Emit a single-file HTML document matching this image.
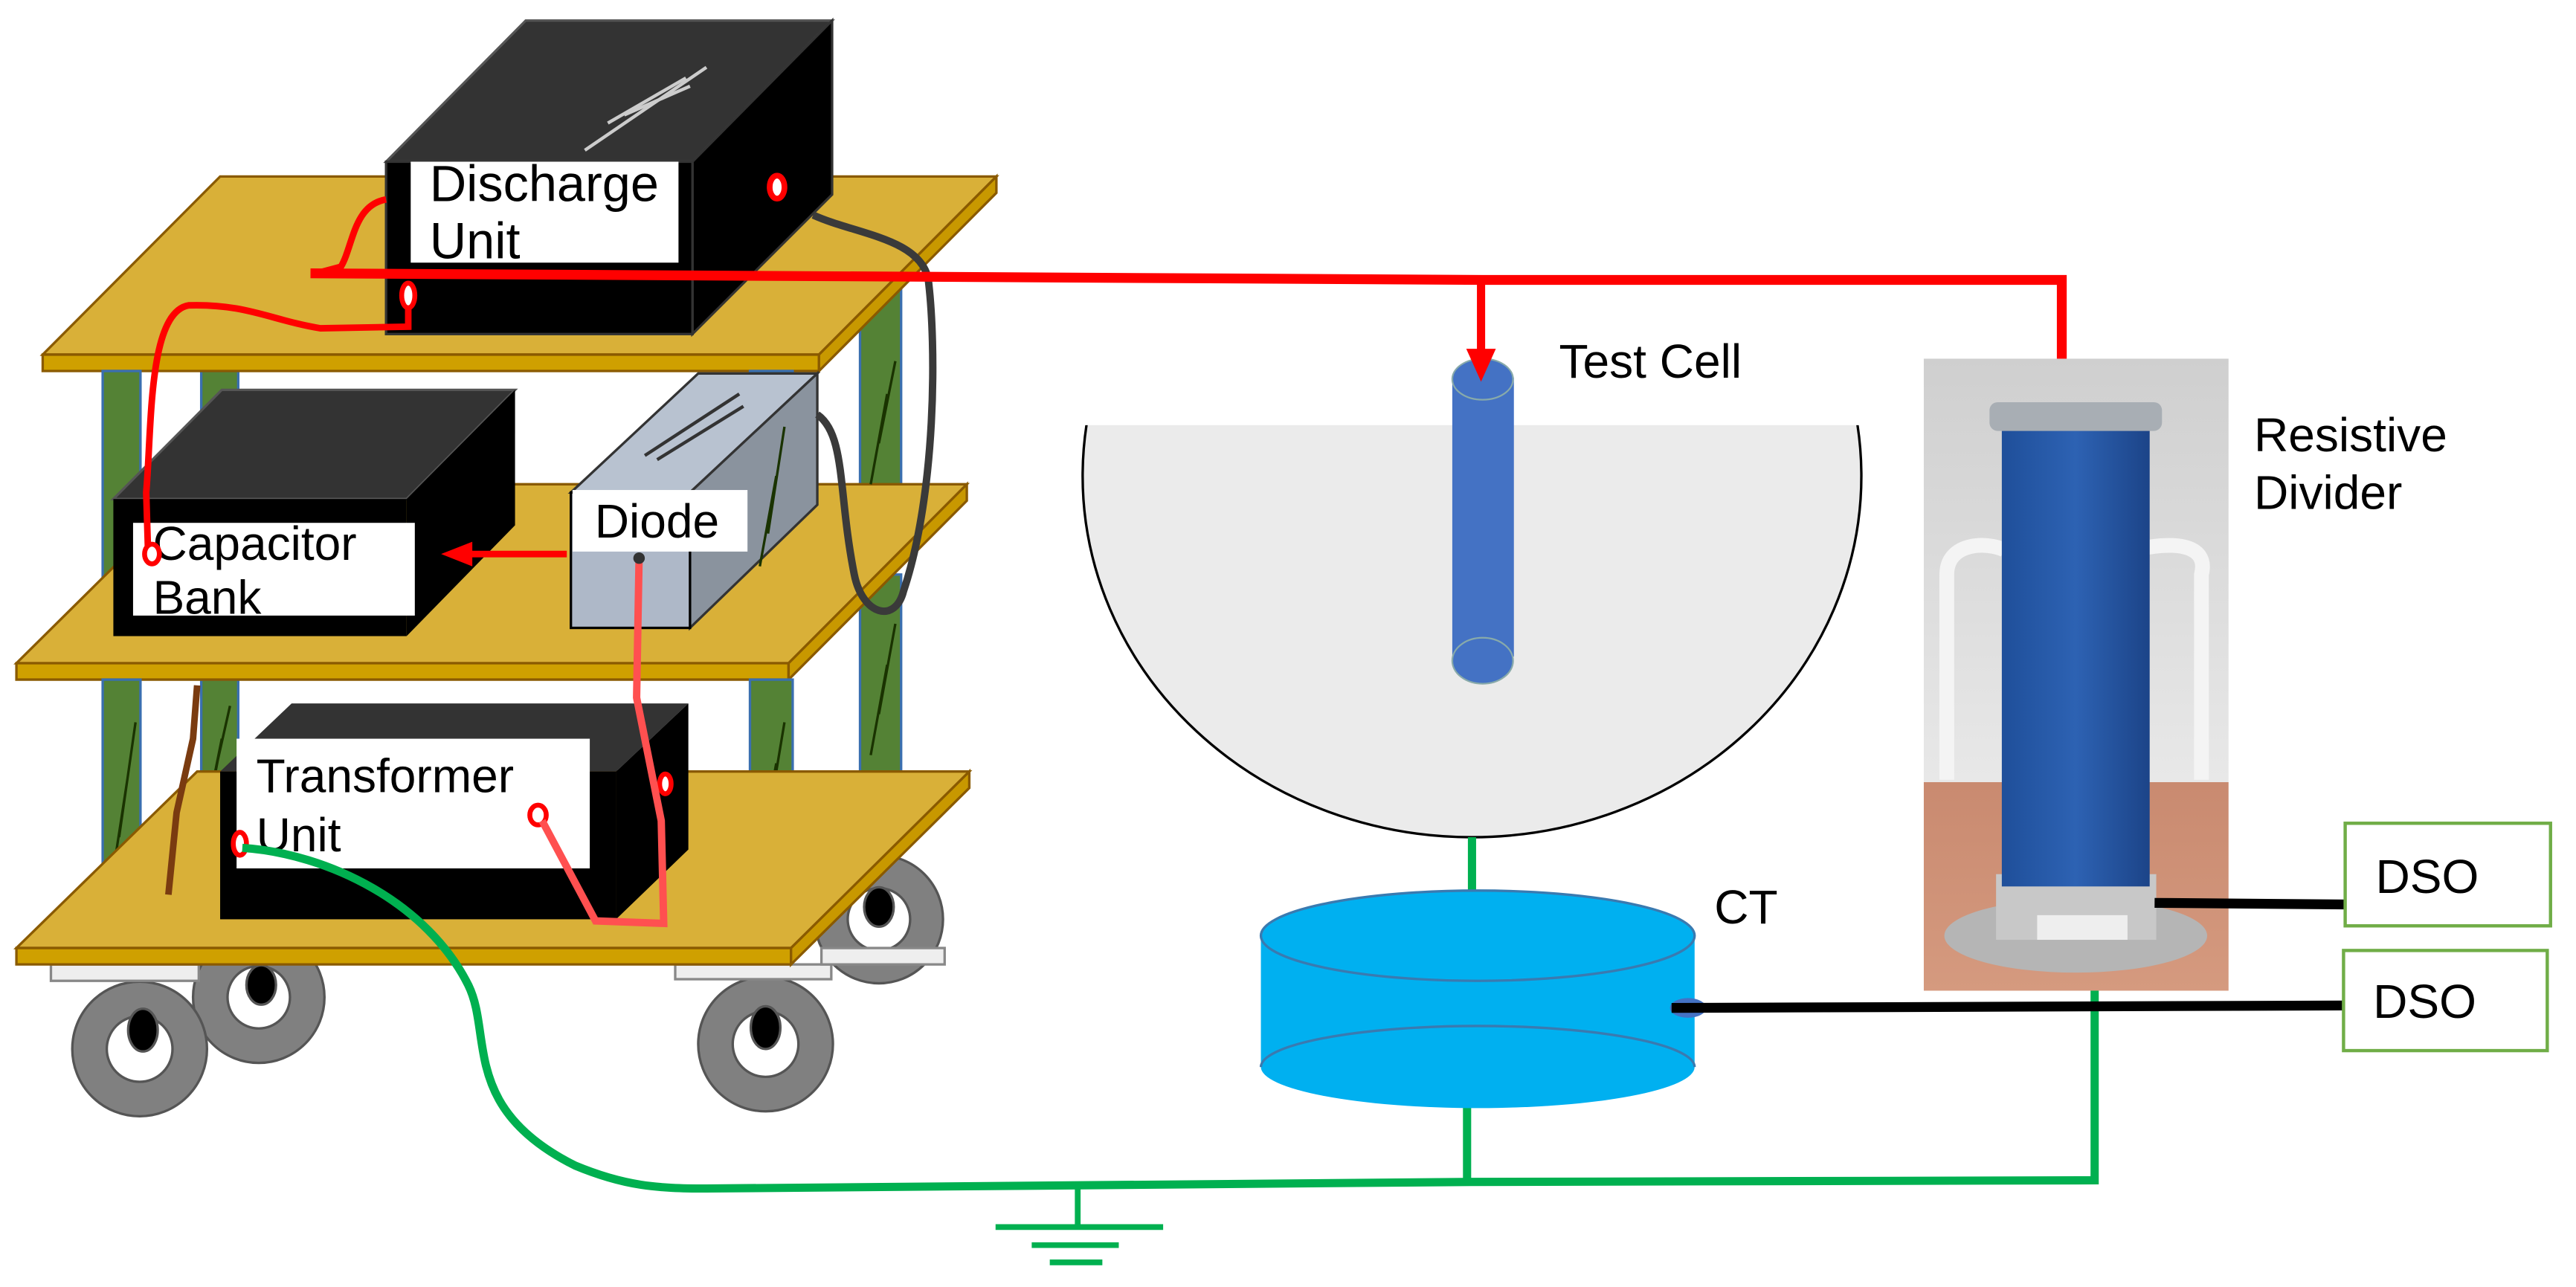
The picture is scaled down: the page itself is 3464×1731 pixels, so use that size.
<!DOCTYPE html>
<html><head><meta charset="utf-8"><style>
html,body{margin:0;padding:0;background:#fff;}
svg{display:block;}
text{font-family:"Liberation Sans",sans-serif;fill:#000;}
</style></head><body>
<svg width="3464" height="1731" viewBox="0 0 3136 1568" preserveAspectRatio="none" xmlns="http://www.w3.org/2000/svg">
<defs>
<linearGradient id="bg" x1="0" y1="0" x2="0" y2="1">
<stop offset="0" stop-color="#cfcfcf"/><stop offset="0.67" stop-color="#e8e8e8"/><stop offset="0.67" stop-color="#c98a70"/><stop offset="1" stop-color="#d59a7f"/></linearGradient>
<linearGradient id="cyl" x1="0" y1="0" x2="1" y2="0">
<stop offset="0" stop-color="#1f4f9a"/><stop offset="0.5" stop-color="#2d62b3"/><stop offset="1" stop-color="#1c4488"/></linearGradient>
<clipPath id="bowl"><rect x="1200" y="518" width="1200" height="600"/></clipPath>
</defs>

<!-- wheels -->
<g stroke="#555" stroke-width="3">
<circle cx="1070" cy="1120" r="78" fill="#808080"/><circle cx="1070" cy="1120" r="38" fill="#fff"/><ellipse cx="1070" cy="1105" rx="18" ry="24" fill="#000"/>
<circle cx="315" cy="1215" r="80" fill="#808080"/><circle cx="315" cy="1215" r="38" fill="#fff"/><ellipse cx="318" cy="1200" rx="18" ry="24" fill="#000"/>
<circle cx="170" cy="1278" r="82" fill="#808080"/><circle cx="170" cy="1278" r="40" fill="#fff"/><ellipse cx="174" cy="1255" rx="18" ry="26" fill="#000"/>
<circle cx="932" cy="1272" r="82" fill="#808080"/><circle cx="932" cy="1272" r="40" fill="#fff"/><ellipse cx="932" cy="1252" rx="18" ry="26" fill="#000"/>
</g>
<g fill="#eee" stroke="#888" stroke-width="3">
<rect x="62" y="1175" width="180" height="20"/><rect x="822" y="1175" width="190" height="18"/><rect x="1000" y="1155" width="150" height="20"/>
</g>

<!-- back posts -->
<g fill="#548235" stroke="#3a6fb0" stroke-width="3">
<rect x="245" y="452" width="45" height="150"/><rect x="245" y="828" width="45" height="165"/>
<rect x="1047" y="350" width="50" height="260"/><rect x="1047" y="700" width="50" height="280"/>
</g>

<!-- top shelf -->
<polygon points="52,432 268,215 1213,215 997,432" fill="#d9b038" stroke="#8a5a00" stroke-width="3"/>
<polygon points="52,432 997,432 997,452 52,452" fill="#cfa000" stroke="#8a5a00" stroke-width="3"/>
<polygon points="997,432 1213,215 1213,235 997,452" fill="#c89800" stroke="#8a5a00" stroke-width="3"/>

<!-- discharge unit -->
<polygon points="470,197 640,25 1013,25 843,197" fill="#333" stroke="#555" stroke-width="3"/>
<polygon points="843,197 1013,25 1013,237 843,407" fill="#000" stroke="#333" stroke-width="3"/>
<rect x="470" y="197" width="373" height="210" fill="#000" stroke="#333" stroke-width="3"/>
<g stroke="#ccc" stroke-width="4"><line x1="712" y1="183" x2="860" y2="82"/><line x1="740" y1="150" x2="835" y2="95"/><line x1="760" y1="140" x2="840" y2="105"/></g>
<rect x="500" y="197" width="326" height="123" fill="#fff"/>
<text x="523" y="245" font-size="62">Discharge</text>
<text x="523" y="315" font-size="62">Unit</text>
<ellipse cx="946" cy="228" rx="9" ry="14" fill="#fff" stroke="#f00" stroke-width="7"/>

<!-- middle shelf -->
<g fill="#548235" stroke="#3a6fb0" stroke-width="3">
<rect x="125" y="452" width="46" height="320"/><rect x="913" y="452" width="52" height="300"/>
</g>
<polygon points="20,808 240,590 1177,590 960,808" fill="#d9b038" stroke="#8a5a00" stroke-width="3"/>
<polygon points="20,808 960,808 960,828 20,828" fill="#cfa000" stroke="#8a5a00" stroke-width="3"/>
<polygon points="960,808 1177,590 1177,610 960,828" fill="#c89800" stroke="#8a5a00" stroke-width="3"/>

<!-- capacitor bank -->
<polygon points="138,608 270,475 627,475 495,608" fill="#333" stroke="#555" stroke-width="3"/>
<polygon points="495,608 627,475 627,640 495,775" fill="#000"/>
<rect x="138" y="608" width="357" height="167" fill="#000"/>
<rect x="162" y="637" width="343" height="113" fill="#fff"/>
<text x="186" y="682" font-size="58">Capacitor</text>
<text x="186" y="748" font-size="58">Bank</text>

<!-- diode -->
<polygon points="695,600 850,455 995,455 840,600" fill="#b8c2d0" stroke="#333" stroke-width="3"/>
<polygon points="840,600 995,455 995,615 840,765" fill="#8a939e" stroke="#333" stroke-width="3"/>
<rect x="695" y="600" width="145" height="165" fill="#aeb8c8" stroke="#000" stroke-width="3"/>
<g stroke="#333" stroke-width="4"><line x1="785" y1="555" x2="900" y2="480"/><line x1="800" y1="560" x2="905" y2="495"/></g>
<rect x="697" y="597" width="213" height="75" fill="#fff"/>
<text x="724" y="655" font-size="58">Diode</text>
<line x1="690" y1="675" x2="565" y2="675" stroke="#f00" stroke-width="8"/>
<polygon points="537,675 575,660 575,690" fill="#f00"/>

<!-- bottom shelf -->
<g fill="#548235" stroke="#3a6fb0" stroke-width="3">
<rect x="125" y="828" width="46" height="297"/><rect x="913" y="828" width="52" height="290"/>
</g>
<g stroke="#1a3300" stroke-width="3" fill="none">
<polyline points="135,1080 155,950 145,1020 165,880"/><polyline points="925,690 945,580 935,650 955,520"/><polyline points="925,1040 945,930 935,1000 955,880"/><polyline points="1060,590 1080,480 1070,540 1090,440"/><polyline points="1060,920 1080,810 1070,870 1090,760"/><polyline points="255,980 270,900 262,940 280,860"/>
</g>
<polygon points="20,1155 240,940 1180,940 963,1155" fill="#d9b038" stroke="#8a5a00" stroke-width="3"/>
<polygon points="20,1155 963,1155 963,1175 20,1175" fill="#cfa000" stroke="#8a5a00" stroke-width="3"/>
<polygon points="963,1155 1180,940 1180,960 963,1175" fill="#c89800" stroke="#8a5a00" stroke-width="3"/>
<polyline points="240,835 235,900 215,990 205,1090" fill="none" stroke="#7a3b10" stroke-width="8"/>

<!-- transformer -->
<polygon points="268,940 355,857 838,857 750,940" fill="#333"/>
<polygon points="750,940 838,857 838,1035 750,1120" fill="#000"/>
<rect x="268" y="940" width="482" height="180" fill="#000"/>
<rect x="288" y="900" width="430" height="158" fill="#fff"/>
<text x="312" y="965" font-size="58">Transformer</text>
<text x="312" y="1037" font-size="58">Unit</text>
<ellipse cx="810" cy="955" rx="7" ry="12" fill="#fff" stroke="#f00" stroke-width="6"/>
<ellipse cx="655" cy="993" rx="10" ry="12" fill="#fff" stroke="#f00" stroke-width="6"/>
<ellipse cx="292" cy="1028" rx="8" ry="14" fill="#fff" stroke="#f00" stroke-width="6"/>

<!-- wires -->
<path d="M778,680 L775,850 L805,1000 L808,1125 L725,1122 L660,1000" fill="none" stroke="#ff5050" stroke-width="9"/>
<circle cx="778" cy="680" r="7" fill="#333"/>
<path d="M990,262 C1040,285 1120,290 1130,340 C1140,420 1140,600 1100,720 C1090,760 1050,750 1040,700 C1020,600 1030,530 995,505" fill="none" stroke="#3a3a3a" stroke-width="9"/>
<path d="M470,243 C430,250 430,300 415,325 L385,333" fill="none" stroke="#f00" stroke-width="8"/>
<path d="M497,372 L497,398 L390,400 C330,390 300,370 230,372 C180,380 185,520 178,600 L180,665" fill="none" stroke="#f00" stroke-width="8"/>
<ellipse cx="185" cy="675" rx="9" ry="12" fill="#fff" stroke="#f00" stroke-width="6"/>
<ellipse cx="497" cy="360" rx="8" ry="15" fill="#fff" stroke="#f00" stroke-width="6"/>

<!-- test cell -->
<g clip-path="url(#bowl)">
<ellipse cx="1792" cy="580" rx="474" ry="440" fill="#ebebeb" stroke="#000" stroke-width="3"/>
</g>
<rect x="1768" y="460" width="75" height="340" fill="#4472c4"/>
<ellipse cx="1805" cy="805" rx="37" ry="28" fill="#4472c4" stroke="#8aa" stroke-width="2"/>
<ellipse cx="1805" cy="462" rx="37" ry="25" fill="#4472c4" stroke="#8aa" stroke-width="2"/>
<text x="1898" y="460" font-size="58">Test Cell</text>

<polyline points="378,333 1805,341 2510,341 2510,470" fill="none" stroke="#f00" stroke-width="12"/>
<line x1="1803" y1="341" x2="1803" y2="430" stroke="#f00" stroke-width="10"/>
<polygon points="1785,425 1821,425 1803,465" fill="#f00"/>

<!-- green ground -->
<path d="M295,1033 C400,1040 520,1100 570,1200 C600,1260 560,1350 700,1420 C760,1445 800,1448 860,1448 L1790,1440 L2550,1438 L2550,1178" fill="none" stroke="#00b050" stroke-width="10"/>
<line x1="1792" y1="1020" x2="1792" y2="1090" stroke="#00b050" stroke-width="10"/>
<line x1="1786" y1="1340" x2="1786" y2="1440" stroke="#00b050" stroke-width="10"/>
<g stroke="#00b050" stroke-width="7">
<line x1="1312" y1="1448" x2="1312" y2="1495"/><line x1="1212" y1="1495" x2="1416" y2="1495"/><line x1="1256" y1="1517" x2="1362" y2="1517"/><line x1="1278" y1="1538" x2="1342" y2="1538"/></g>

<!-- CT -->
<path d="M1535,1140 L1535,1300 A264,50 0 0 0 2063,1300 L2063,1140 Z" fill="#00b0f0"/>
<ellipse cx="1799" cy="1140" rx="264" ry="55" fill="#00b0f0" stroke="#3a7ab0" stroke-width="3"/>
<path d="M1535,1300 A264,50 0 0 1 2063,1300" fill="none" stroke="#3a7ab0" stroke-width="3"/>
<ellipse cx="2055" cy="1228" rx="22" ry="12" fill="#4472c4"/>
<text x="2087" y="1125" font-size="58">CT</text>
<line x1="2035" y1="1228" x2="2852" y2="1225" stroke="#000" stroke-width="12"/>

<!-- resistive divider photo -->
<rect x="2342" y="437" width="371" height="770" fill="url(#bg)"/>
<g fill="none" stroke="#f4f4f4" stroke-width="18"><path d="M2370,950 L2370,700 C2370,660 2420,660 2440,670"/><path d="M2680,950 L2680,700 C2690,660 2640,660 2600,670"/></g>
<ellipse cx="2527" cy="1140" rx="160" ry="45" fill="#b5b5b5"/>
<rect x="2430" y="1065" width="195" height="80" fill="#c8c8c8"/>
<rect x="2437" y="510" width="180" height="570" fill="url(#cyl)"/>
<rect x="2422" y="490" width="210" height="35" rx="10" fill="#a8aeb4"/>
<rect x="2480" y="1115" width="110" height="30" fill="#eee"/>
<text x="2744" y="550" font-size="58">Resistive</text>
<text x="2744" y="620" font-size="58">Divider</text>
<line x1="2623" y1="1100" x2="2856" y2="1102" stroke="#000" stroke-width="12"/>

<!-- DSO -->
<rect x="2855" y="1003" width="250" height="125" fill="#fff" stroke="#70ad47" stroke-width="4"/>
<text x="2892" y="1088" font-size="58">DSO</text>
<rect x="2853" y="1158" width="248" height="122" fill="#fff" stroke="#70ad47" stroke-width="4"/>
<text x="2889" y="1240" font-size="58">DSO</text>
</svg>
</body></html>
